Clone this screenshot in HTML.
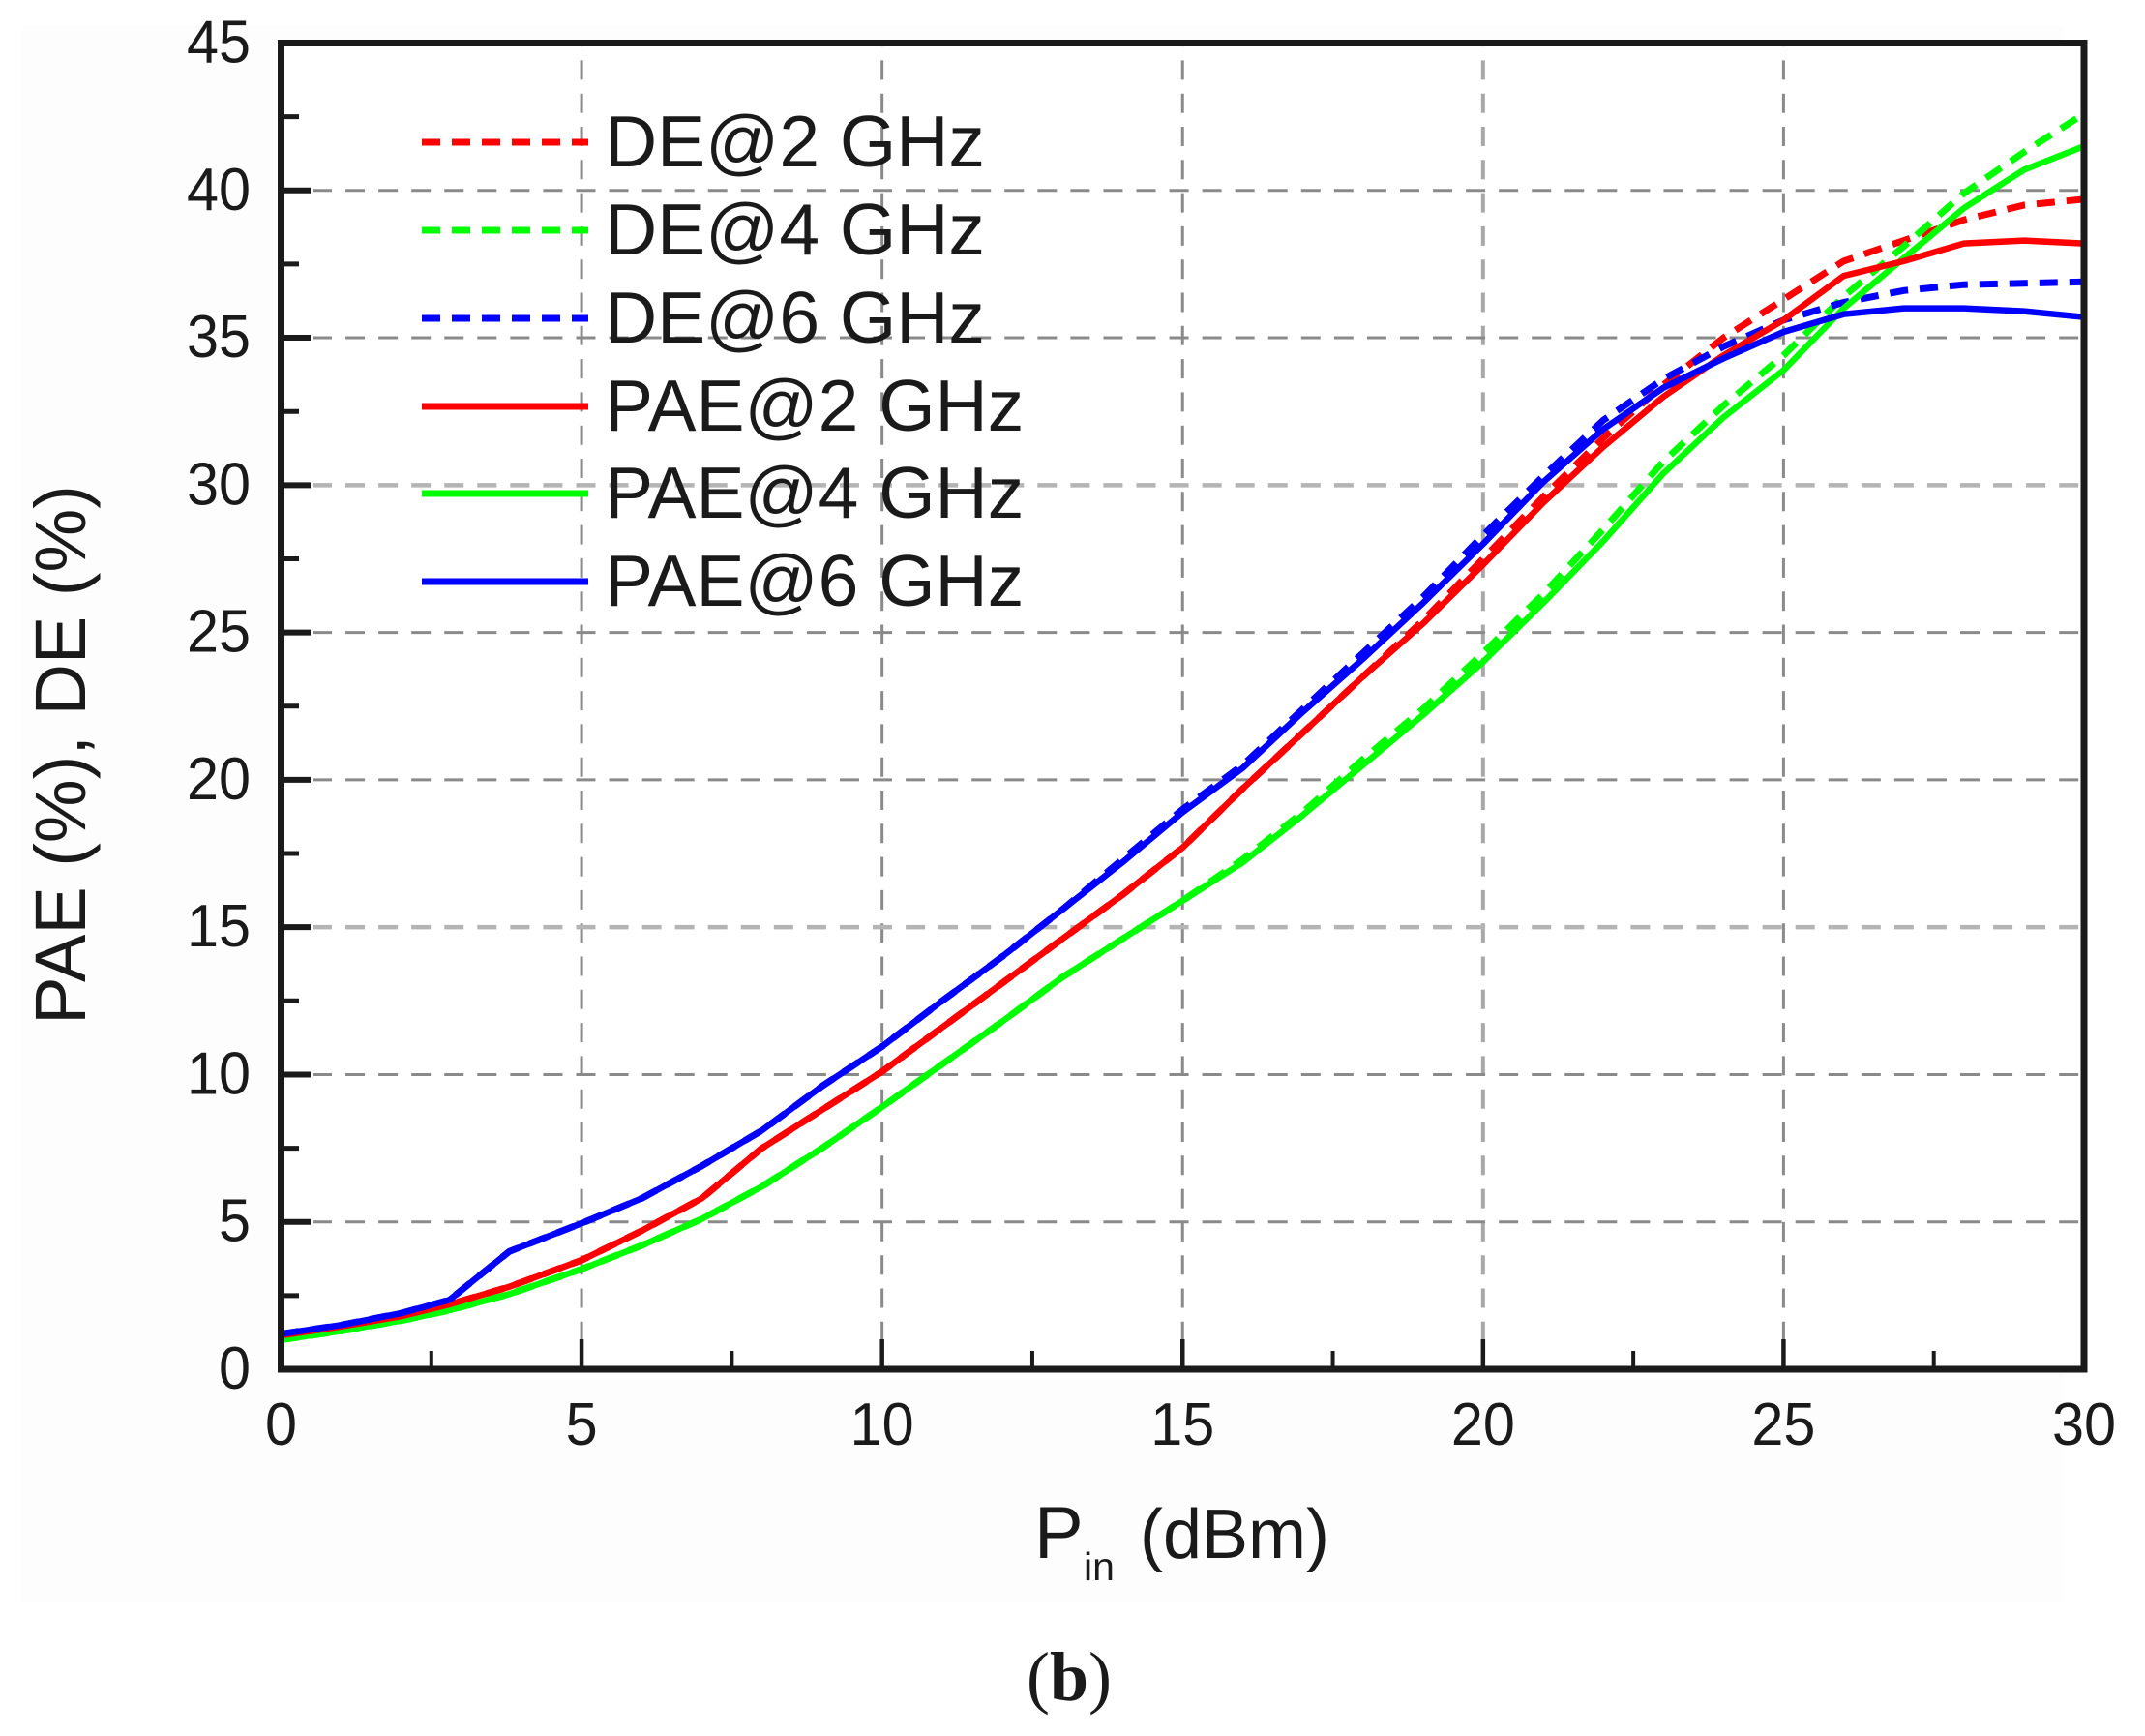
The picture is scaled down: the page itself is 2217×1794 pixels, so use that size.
<!DOCTYPE html>
<html lang="en">
<head>
<meta charset="utf-8">
<title>PAE and DE versus input power</title>
<style>
html,body{margin:0;padding:0;background:#fff;}
svg{display:block;}
text{font-family:"Liberation Sans",sans-serif;fill:#1a1a1a;}
</style>
</head>
<body>
<svg id="chart" xmlns="http://www.w3.org/2000/svg" width="2217" height="1794" viewBox="0 0 2217 1794">
<rect x="0" y="0" width="2217" height="1794" fill="#ffffff"/>
<rect x="22" y="26" width="2110" height="1630" fill="#fefdfd"/>
<rect x="290.5" y="44.5" width="1863.5" height="1370.5" fill="#ffffff"/>
<g id="grid"></g>
<g id="series"></g>
<g id="ticks"></g>
<rect x="290.5" y="44.5" width="1863.5" height="1370.5" fill="none" stroke="#1a1a1a" stroke-width="7"/>
<g id="tick-labels"></g>
<g font-size="75">
  <g><line x1="436" x2="608" y1="147" y2="147" stroke="#ff0000" stroke-width="7" stroke-dasharray="19 12"/><text x="625" y="172">DE@2 GHz</text></g>
  <g><line x1="436" x2="608" y1="238" y2="238" stroke="#00ff00" stroke-width="7" stroke-dasharray="19 12"/><text x="625" y="263">DE@4 GHz</text></g>
  <g><line x1="436" x2="608" y1="329" y2="329" stroke="#0000ff" stroke-width="7" stroke-dasharray="19 12"/><text x="625" y="354">DE@6 GHz</text></g>
  <g><line x1="436" x2="608" y1="420" y2="420" stroke="#ff0000" stroke-width="7"/><text x="625" y="445">PAE@2 GHz</text></g>
  <g><line x1="436" x2="608" y1="510" y2="510" stroke="#00ff00" stroke-width="7"/><text x="625" y="535">PAE@4 GHz</text></g>
  <g><line x1="436" x2="608" y1="601" y2="601" stroke="#0000ff" stroke-width="7"/><text x="625" y="626">PAE@6 GHz</text></g>
</g>
<text transform="translate(88 780) rotate(-90)" text-anchor="middle" font-size="74">PAE (%), DE (%)</text>
<g>
  <text x="1069" y="1610" font-size="76">P</text>
  <text x="1120" y="1633" font-size="41">in</text>
  <text x="1178" y="1610" font-size="72">(dBm)</text>
</g>
<text x="1061" y="1757" font-size="72" style="font-family:'Liberation Serif',serif;">(<tspan font-weight="bold">b</tspan>)</text>
</svg>
<script>
const pin = [0,1,2,2.8,3.8,5,6,7,8,9,10,11,12,13,14,15,16,17,18,19,20,21,22,23,24,25,26,27,28,29,30];
const paeTwo = [1.15,1.45,1.8,2.2,2.8,3.7,4.7,5.8,7.5,8.8,10.1,11.6,13.1,14.6,16.1,17.7,19.7,21.6,23.5,25.3,27.3,29.4,31.3,33.0,34.4,35.6,37.1,37.6,38.2,38.3,38.2];
const paeFour = [1.0,1.3,1.65,2.0,2.55,3.4,4.2,5.1,6.2,7.5,8.9,10.35,11.8,13.3,14.6,15.9,17.2,18.8,20.5,22.2,24.0,26.0,28.1,30.4,32.3,33.9,36.0,37.7,39.4,40.7,41.5];
const paeSix = [1.2,1.5,1.9,2.35,4.0,4.95,5.8,6.9,8.1,9.6,10.95,12.5,14.0,15.6,17.2,18.9,20.4,22.3,24.1,26.0,28.0,30.1,31.9,33.3,34.3,35.2,35.8,36.0,36.0,35.9,35.7];
const deTwo = [1.15,1.45,1.8,2.2,2.8,3.7,4.7,5.8,7.5,8.8,10.1,11.6,13.1,14.6,16.1,17.7,19.7,21.6,23.5,25.4,27.5,29.6,31.6,33.4,35.0,36.3,37.6,38.3,39.0,39.5,39.7];
const deFour = [1.0,1.3,1.65,2.0,2.55,3.4,4.2,5.1,6.2,7.5,8.9,10.35,11.8,13.3,14.6,15.9,17.3,18.9,20.7,22.4,24.3,26.3,28.5,30.8,32.7,34.4,36.4,38.1,39.9,41.3,42.6];
const deSix = [1.2,1.5,1.9,2.35,4.0,4.95,5.8,6.9,8.1,9.6,10.95,12.5,14.0,15.6,17.3,19.0,20.5,22.4,24.3,26.2,28.3,30.3,32.2,33.6,34.7,35.6,36.2,36.6,36.8,36.85,36.9];
const xTickLabels = ["0","5","10","15","20","25","30"];
const yTickLabels = ["0","5","10","15","20","25","30","35","40","45"];
const xMinorTicks = [2.5,7.5,12.5,17.5,22.5,27.5];
const yMinorTicks = [2.5,7.5,12.5,17.5,22.5,27.5,32.5,37.5,42.5];

const NS = 'http://www.w3.org/2000/svg';
const sx = v => 290.5 + (v / 30) * 1863.5;
const sy = v => 1415 - (v / 45) * 1370.5;
const make = (tag, parent) => { const el = document.createElementNS(NS, tag); parent.appendChild(el); return el; };
const put = (el, props) => { for (const k in props) el.setAttribute(k, props[k]); };

const gridG = document.getElementById('grid');
const tickG = document.getElementById('ticks');
const labelG = document.getElementById('tick-labels');
const seriesG = document.getElementById('series');

xTickLabels.forEach(t => {
  const v = Number(t);
  if (v > 0 && v < 30) {
    const g = make('line', gridG);
    
    
    put(g, {x1: sx(v), x2: sx(v), y1: 45, y2: 1415, stroke: v === 20 ? '#a8a8a8' : '#8a8a8a', 'stroke-width': v === 20 ? 4 : 3, 'stroke-dasharray': '20 14.3', 'stroke-dashoffset': -17.4});
  }
  const tk = make('line', tickG);
  
  
  put(tk, {x1: sx(v), x2: sx(v), y1: 1415, y2: 1384, stroke: '#1a1a1a', 'stroke-width': 4.5});
  const lb = make('text', labelG);
  
  
  put(lb, {x: sx(v), y: 1493, 'text-anchor': 'middle', 'font-size': 62, textLength: 33 * t.length, lengthAdjust: 'spacingAndGlyphs'});
  lb.textContent = t;
});

xMinorTicks.forEach(v => {
  const tk = make('line', tickG);
  
  
  put(tk, {x1: sx(v), x2: sx(v), y1: 1415, y2: 1396, stroke: '#1a1a1a', 'stroke-width': 4});
});

yTickLabels.forEach(t => {
  const v = Number(t);
  if (v > 0 && v < 45) {
    const light = v === 30 || v === 15;
    const g = make('line', gridG);
    
    
    put(g, {x1: 323, x2: 2151, y1: sy(v), y2: sy(v), stroke: light ? '#b4b4b4' : '#8a8a8a', 'stroke-width': light ? 4.5 : 3, 'stroke-dasharray': '20 14.06'});
  }
  const tk = make('line', tickG);
  
  
  put(tk, {x1: 290.5, x2: 321, y1: sy(v), y2: sy(v), stroke: '#1a1a1a', 'stroke-width': 6});
  const lb = make('text', labelG);
  
  
  put(lb, {x: 259, y: sy(v) + 20, 'text-anchor': 'end', 'font-size': 62, textLength: 33 * t.length, lengthAdjust: 'spacingAndGlyphs'});
  lb.textContent = t;
});

yMinorTicks.forEach(v => {
  const tk = make('line', tickG);
  
  
  put(tk, {x1: 290.5, x2: 309, y1: sy(v), y2: sy(v), stroke: '#1a1a1a', 'stroke-width': 5});
});

const drawSeries = (values, color, dashed) => {
  const d = values.map((v, i) => (i ? 'L' : 'M') + sx(pin[i]).toFixed(1) + ' ' + sy(v).toFixed(1)).join(' ');
  const p = make('path', seriesG);
  put(p, {d: d, fill: 'none', stroke: color, 'stroke-width': dashed ? 7 : 6.5, 'stroke-linejoin': 'round'});
  if (dashed) p.setAttribute('stroke-dasharray', '19 12');
  return p;
};

const lineDeTwo = drawSeries(deTwo, '#ff0000', true);


const lineDeFour = drawSeries(deFour, '#00ff00', true);


const lineDeSix = drawSeries(deSix, '#0000ff', true);


const linePaeFour = drawSeries(paeFour, '#00ff00', false);


const linePaeTwo = drawSeries(paeTwo, '#ff0000', false);


const linePaeSix = drawSeries(paeSix, '#0000ff', false);


</script>
</body>
</html>
